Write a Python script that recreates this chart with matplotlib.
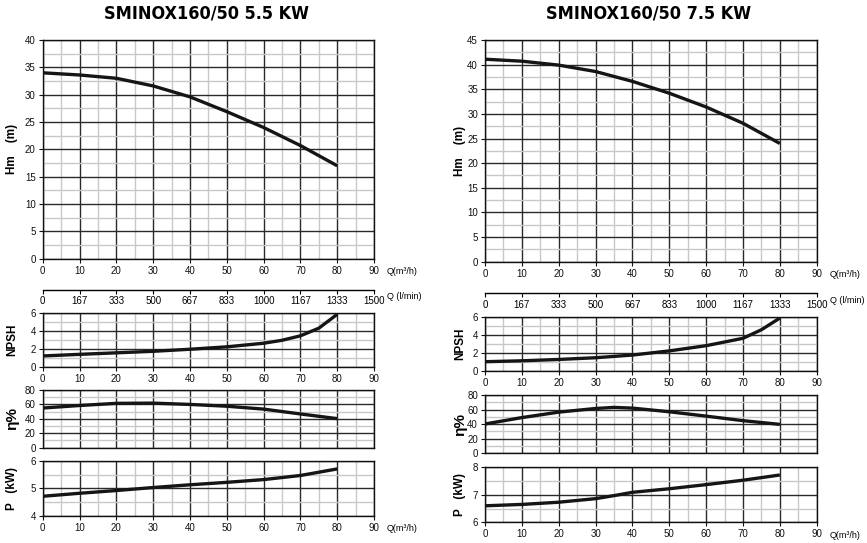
import matplotlib
matplotlib.use("Agg")
import matplotlib.pyplot as plt
import numpy as np
from matplotlib.ticker import MultipleLocator

plt.rcParams['font.family'] = ['Liberation Sans', 'DejaVu Sans']

# ---------------- data ----------------
titles = ["SMINOX160/50 5.5 KW", "SMINOX160/50 7.5 KW"]

q_left = [0, 10, 20, 30, 40, 50, 60, 70, 80]
h_left = [34.0, 33.6, 33.0, 31.6, 29.6, 26.9, 24.0, 20.7, 17.0]
q_npsh_left = [0, 10, 20, 30, 40, 50, 60, 65, 70, 75, 80]
npsh_left = [1.2, 1.38, 1.55, 1.72, 1.95, 2.22, 2.62, 2.95, 3.45, 4.3, 5.85]
eta_left = [55, 58.5, 61.5, 61.8, 60.0, 57.5, 53.5, 46.8, 40.3]
p_left = [4.71, 4.82, 4.92, 5.03, 5.13, 5.22, 5.32, 5.47, 5.71]

q_right = [0, 10, 15, 20, 30, 35, 40, 50, 60, 70, 80]
h_right = [41.1, 40.7, 40.3, 39.9, 38.6, 37.6, 36.6, 34.2, 31.4, 28.1, 24.0]
q_npsh_right = [0, 10, 20, 30, 40, 50, 60, 70, 75, 80]
npsh_right = [1.0, 1.1, 1.25, 1.44, 1.74, 2.2, 2.78, 3.6, 4.55, 5.85]
q_eta_right = [0, 10, 20, 30, 35, 40, 50, 60, 70, 80]
eta_right = [40.2, 49.0, 56.5, 61.5, 63.0, 62.0, 57.0, 51.0, 44.8, 39.7]
q_p_right = [0, 10, 20, 30, 35, 40, 50, 60, 70, 80]
p_right = [6.60, 6.65, 6.73, 6.86, 6.97, 7.09, 7.22, 7.37, 7.53, 7.72]

lmin_ticks = [0, 166.67, 333.33, 500, 666.67, 833.33, 1000, 1166.67, 1333.33, 1500]
lmin_labels = ["0", "167", "333", "500", "667", "833", "1000", "1167", "1333", "1500"]

W, H = 867, 543
fig = plt.figure(figsize=(W / 100, H / 100), dpi=100)

def frac(x0, ytop, x1, ybot):
    return [x0 / W, (H - ybot) / H, (x1 - x0) / W, (ybot - ytop) / H]

MAJ = '#2a2a2a'
MIN = '#c8c8c8'
LINE = '#151515'
TFS = 7

def style(ax, ylim, ymaj, ymin, xlabels=True):
    ax.set_xlim(0, 90)
    ax.set_ylim(*ylim)
    ax.xaxis.set_major_locator(MultipleLocator(10))
    ax.xaxis.set_minor_locator(MultipleLocator(5))
    ax.yaxis.set_major_locator(MultipleLocator(ymaj))
    ax.yaxis.set_minor_locator(MultipleLocator(ymin))
    ax.grid(which='minor', color=MIN, lw=1.0, zorder=1)
    ax.grid(which='major', color=MAJ, lw=1.0, zorder=2)
    ax.set_axisbelow(True)
    for s in ax.spines.values():
        s.set_color('#111111')
        s.set_linewidth(1.0)
    ax.tick_params(which='major', direction='out', length=3, width=0.8,
                   labelsize=TFS, pad=2, colors='#111111')
    ax.tick_params(which='minor', length=0)
    if not xlabels:
        ax.tick_params(axis='x', which='major', length=0, labelbottom=False)

def lmin_axis(x0, x1, y):
    ax = fig.add_axes(frac(x0, y - 0.5, x1, y))
    ax.set_xlim(0, 1500)
    ax.set_xticks(lmin_ticks)
    ax.set_xticklabels(lmin_labels)
    ax.set_yticks([])
    for k in ['top', 'left', 'right']:
        ax.spines[k].set_visible(False)
    ax.spines['bottom'].set_linewidth(1.0)
    ax.tick_params(axis='x', direction='out', length=3, width=0.8, labelsize=TFS, pad=2)
    ax.patch.set_alpha(0)
    return ax

panels = [
    dict(x0=42.7, x1=374, top=(40, 258.7), lmin=289.5, npsh=(313, 366.7),
         eta=(390, 447.7), p=(461, 515.7), title_x=207, ylab_x=18,
         q=q_left, h=h_left, hlim=(0, 40), qn=q_npsh_left, n=npsh_left,
         qe=q_left, e=eta_left, qp=q_left, pw=p_left, plim=(4, 6), title=titles[0]),
    dict(x0=485, x1=816.7, top=(40, 261.7), lmin=293.3, npsh=(316.7, 370.7),
         eta=(395, 453.3), p=(467.3, 522.3), title_x=649, ylab_x=466,
         q=q_right, h=h_right, hlim=(0, 45), qn=q_npsh_right, n=npsh_right,
         qe=q_eta_right, e=eta_right, qp=q_p_right, pw=p_right, plim=(6, 8), title=titles[1]),
]

for P in panels:
    x0, x1 = P['x0'], P['x1']
    lx = (P['ylab_x'] - x0) / (x1 - x0)
    # head
    ax = fig.add_axes(frac(x0, P['top'][0], x1, P['top'][1]))
    style(ax, P['hlim'], 5, 2.5)
    ax.plot(P['q'], P['h'], color=LINE, lw=2.4, solid_capstyle='butt', zorder=5)
    ax.set_ylabel("Hm    (m)", fontsize=8.5, fontweight='bold')
    ax.yaxis.set_label_coords(lx, 0.5)
    fig.text((x1 + 13) / W, 1 - (P['top'][1] + 13) / H, "Q(m³/h)", fontsize=6.5,
             ha='left', va='center')
    # l/min
    lmin_axis(x0, x1, P['lmin'])
    fig.text((x1 + 13) / W, 1 - (P['lmin'] + 7) / H, "Q (l/min)", fontsize=6.5,
             ha='left', va='center')
    # NPSH
    ax = fig.add_axes(frac(x0, P['npsh'][0], x1, P['npsh'][1]))
    style(ax, (0, 6), 2, 1)
    ax.plot(P['qn'], P['n'], color=LINE, lw=2.4, solid_capstyle='butt', zorder=5)
    ax.set_ylabel("NPSH", fontsize=8.5, fontweight='bold')
    ax.yaxis.set_label_coords(lx, 0.5)
    # eta
    ax = fig.add_axes(frac(x0, P['eta'][0], x1, P['eta'][1]))
    style(ax, (0, 80), 20, 10, xlabels=False)
    ax.plot(P['qe'], P['e'], color=LINE, lw=2.4, solid_capstyle='butt', zorder=5)
    ax.set_ylabel("η%", fontsize=11, fontweight='bold')
    ax.yaxis.set_label_coords(lx + 1 / (x1 - x0), 0.5)
    # power
    ax = fig.add_axes(frac(x0, P['p'][0], x1, P['p'][1]))
    style(ax, P['plim'], 1, 0.5)
    ax.plot(P['qp'], P['pw'], color=LINE, lw=2.4, solid_capstyle='butt', zorder=5)
    ax.set_ylabel("P   (kW)", fontsize=8.5, fontweight='bold')
    ax.yaxis.set_label_coords(lx, 0.5)
    fig.text((x1 + 13) / W, 1 - (P['p'][1] + 13) / H, "Q(m³/h)", fontsize=6.5,
             ha='left', va='center')
    # title
    fig.text(P['title_x'] / W, 1 - 14 / H, P['title'], fontsize=13, fontweight='bold',
             ha='center', va='center', fontstretch='condensed',
             family=['DejaVu Sans'])

fig.savefig("out.png", dpi=100)
